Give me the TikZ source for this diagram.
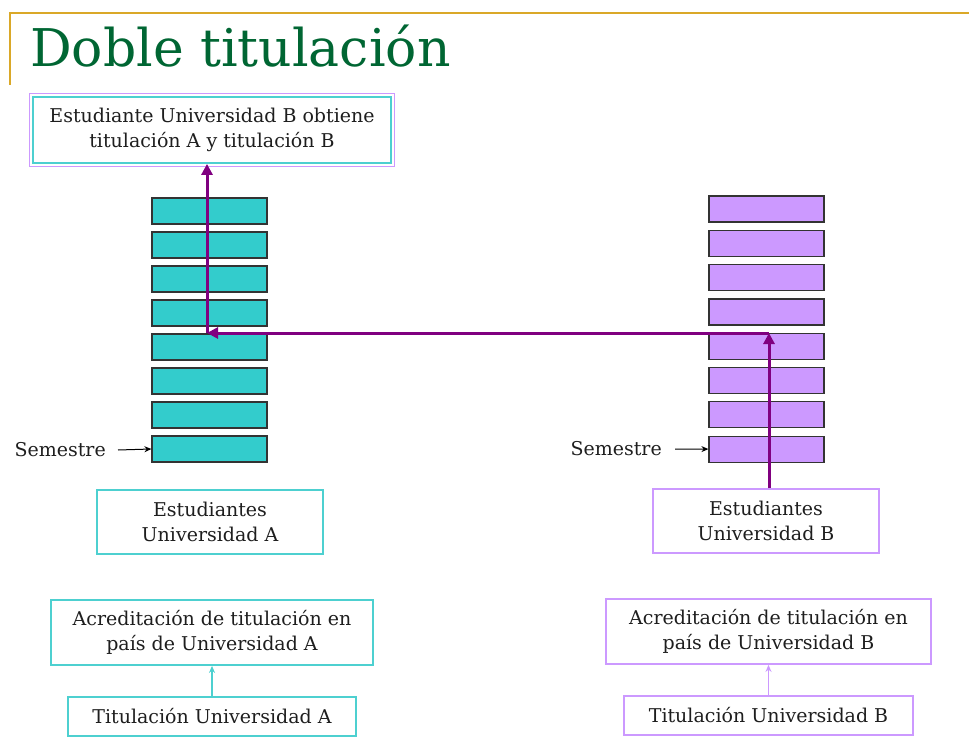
\documentclass[tikz,border=0pt]{standalone}
\usepackage{fontspec}
\setmainfont{DejaVu Serif}
\usetikzlibrary{arrows.meta,fit,calc}
\definecolor{gold}{RGB}{218,168,40}
\definecolor{titlegreen}{RGB}{0,102,51}
\definecolor{tealfill}{RGB}{51,204,204}
\definecolor{tealline}{RGB}{77,208,208}
\definecolor{lilacfill}{RGB}{204,153,255}
\definecolor{lilacline}{RGB}{204,153,255}
\definecolor{arrowpurple}{RGB}{128,0,128}
\definecolor{txt}{RGB}{30,30,30}
\begin{document}
\begin{tikzpicture}[x=1pt,y=-1pt,
  txtbox/.style={draw, line width=1.8pt, fill=white, align=center, text=txt,
    font=\fontsize{19}{25}\selectfont, inner sep=0pt},
  abox/.style={txtbox, draw=tealline},
  bbox/.style={txtbox, draw=lilacline},
  semA/.style={draw=black!80, line width=1.2pt, fill=tealfill, minimum width=115pt, minimum height=26pt, inner sep=0pt},
  semB/.style={draw=black!80, line width=1.2pt, fill=lilacfill, minimum width=115pt, minimum height=26pt, inner sep=0pt},
  parrow/.style={draw=arrowpurple, line width=3pt, -{Triangle[length=11pt,width=11pt]}},
  thinarrow/.style={line width=1pt, -{Stealth[length=7pt,width=6pt]}},
  semlabel/.style={text=txt, font=\fontsize{19}{22}\selectfont, inner sep=0pt}
]
\useasboundingbox (0,0) rectangle (969,746);
% title frame
\draw[gold, line width=1.5pt] (10,85) -- (10,13) -- (969,13);
\node[anchor=base west, text=titlegreen, font=\fontsize{52}{60}\selectfont, inner sep=0pt] (title) at (30,67) {Doble titulación};

% top box
\node[abox, minimum width=358pt, minimum height=66pt] (top) at (212,130) {Estudiante Universidad B obtiene\\titulación A y titulación B};
\node[fit=(top), inner sep=2.5pt, draw=lilacline, line width=1.5pt] (topouter) {};

% stacks
\foreach \i in {0,...,7} {
  \node[semA] (a\i) at (209.5,{211+34*\i}) {};
  \node[semB] (b\i) at (766.5,{209+34.3*\i}) {};
}

% semestre labels
\node[semlabel, anchor=east] (semAlab) at (106,450) {Semestre};
\node[semlabel, anchor=east] (semBlab) at (662,449) {Semestre};
\draw[thinarrow] ($(semAlab.east)+(12,0)$) -- (a7.west);
\draw[thinarrow] ($(semBlab.east)+(13,0)$) -- (b7.west);

% student boxes
\node[abox, minimum width=226pt, minimum height=64pt] (estA) at (210,522) {Estudiantes\\Universidad A};
\node[bbox, minimum width=226pt, minimum height=64pt] (estB) at (766,521) {Estudiantes\\Universidad B};

% accreditation boxes
\node[abox, minimum width=322pt, minimum height=65pt] (accA) at (212,632.5) {Acreditación de titulación en\\país de Universidad A};
\node[bbox, minimum width=325pt, minimum height=65pt] (accB) at (768.5,631.5) {Acreditación de titulación en\\país de Universidad B};

% titulation boxes
\node[abox, minimum width=288pt, minimum height=39pt] (titA) at (212,716.5) {Titulación Universidad A};
\node[bbox, minimum width=289pt, minimum height=39pt] (titB) at (768.5,715.5) {Titulación Universidad B};

\draw[thinarrow, tealline, line width=1.5pt] (titA) -- (accA);
\draw[thinarrow, lilacline, line width=1.5pt] (titB) -- (accB);

% purple path
\coordinate (c1) at (769,333);
\coordinate (c2) at (207,333);
\draw[parrow] (c1 |- estB.north) -- (c1);
\draw[parrow] (c1) -- (c2);
\draw[parrow] (c2) -- (c2 |- top.south);
\end{tikzpicture}
\end{document}
